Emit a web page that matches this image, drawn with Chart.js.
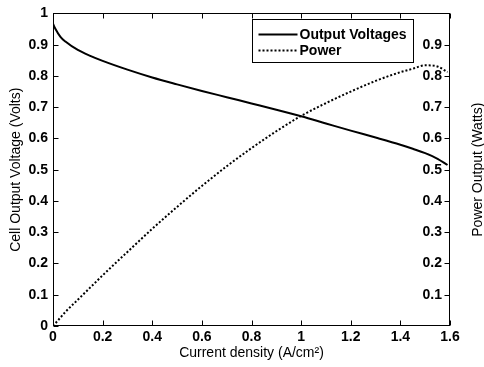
<!DOCTYPE html>
<html>
<head>
<meta charset="utf-8">
<script src="https://cdn.jsdelivr.net/npm/chart.js@4/dist/chart.umd.min.js"></script>
<style>
  html, body { margin: 0; padding: 0; background: #fff; }
  canvas { display: block; }
</style>
</head>
<body>
<canvas id="fcChart" width="484" height="367"></canvas>
<script>
// Polarisation and power curve of the cell
const currentDensity = [0, 0.01, 0.03, 0.05, 0.1, 0.15, 0.2, 0.3, 0.4, 0.5, 0.6, 0.7, 0.8, 0.9, 1.0, 1.1, 1.2, 1.3, 1.4, 1.45, 1.5, 1.55, 1.59];
const outputVoltage = [0.967, 0.95, 0.925, 0.91, 0.883, 0.864, 0.848, 0.82, 0.795, 0.773, 0.752, 0.732, 0.712, 0.692, 0.671, 0.648, 0.625, 0.603, 0.58, 0.567, 0.553, 0.535, 0.515];
const powerOutput = [0, 0.009, 0.027, 0.045, 0.084, 0.123, 0.162, 0.237, 0.311, 0.381, 0.448, 0.511, 0.569, 0.623, 0.672, 0.713, 0.75, 0.784, 0.812, 0.823, 0.834, 0.83, 0.812];

const xTicks = [0, 0.2, 0.4, 0.6, 0.8, 1, 1.2, 1.4, 1.6];
const voltTicks = [0, 0.1, 0.2, 0.3, 0.4, 0.5, 0.6, 0.7, 0.8, 0.9, 1];
const powerTicks = [0.1, 0.2, 0.3, 0.4, 0.5, 0.6, 0.7, 0.8, 0.9];

const FONT = "'Liberation Sans', Arial, sans-serif";
const tickFont = { family: FONT, size: 14, weight: 'bold' };
const titleFont = { family: FONT, size: 14, lineHeight: 1 };

const toPoints = (xs, ys) => xs.map((x, i) => ({ x: x, y: ys[i] }));
const setTicks = list => scale => { scale.ticks = list.map(v => ({ value: v })); };

// box frame, inward tick marks, right-hand axis title and the boxed legend
const frameAndLegend = {
  id: 'frameAndLegend',
  afterDraw(chart) {
    const { ctx, chartArea: a, scales } = chart;
    const L = Math.round(a.left) + 0.5, R = Math.round(a.right) - 0.5;
    const T = Math.round(a.top) + 0.5, B = Math.round(a.bottom) - 0.5;
    ctx.save();
    ctx.strokeStyle = '#000';
    ctx.lineWidth = 1;
    ctx.strokeRect(L, T, R - L, B - T);

    ctx.beginPath();
    xTicks.forEach(v => {
      const px = Math.round(scales.x.getPixelForValue(v)) + 0.5;
      ctx.moveTo(px, B); ctx.lineTo(px, B - 5);
      ctx.moveTo(px, T); ctx.lineTo(px, T + 5);
    });
    voltTicks.forEach(v => {
      const py = Math.round(scales.y.getPixelForValue(v)) + 0.5;
      ctx.moveTo(L, py); ctx.lineTo(L + 5, py);
    });
    powerTicks.forEach(v => {
      const py = Math.round(scales.y2.getPixelForValue(v)) + 0.5;
      ctx.moveTo(R, py); ctx.lineTo(R - 5, py);
    });
    ctx.stroke();

    // y2 title reads bottom to top, like the left one
    ctx.save();
    ctx.translate(scales.y2.right - 6, (a.top + a.bottom) / 2);
    ctx.rotate(-Math.PI / 2);
    ctx.font = '14px ' + FONT;
    ctx.fillStyle = '#000';
    ctx.textAlign = 'center';
    ctx.textBaseline = 'middle';
    ctx.fillText(chart.options.scales.y2.title.text, 0, 0);
    ctx.restore();

    // legend
    const bx = L + 199, by = T + 6, bw = 161, bh = 43;
    ctx.fillStyle = '#fff';
    ctx.fillRect(bx, by, bw, bh);
    ctx.strokeRect(bx, by, bw, bh);
    ctx.font = 'bold 14px ' + FONT;
    ctx.textBaseline = 'middle';
    ctx.fillStyle = '#000';
    chart.data.datasets.forEach((ds, i) => {
      const y = by + 15 + i * 16;
      ctx.save();
      ctx.lineWidth = ds.borderWidth;
      ctx.setLineDash(ds.borderDash || []);
      ctx.beginPath();
      ctx.moveTo(bx + 6, y);
      ctx.lineTo(bx + 45, y);
      ctx.stroke();
      ctx.restore();
      ctx.fillText(ds.label, bx + 47, y + 1);
    });
    ctx.restore();
  }
};

new Chart(document.getElementById('fcChart'), {
  type: 'line',
  data: {
    datasets: [
      {
        label: 'Output Voltages',
        data: toPoints(currentDensity, outputVoltage),
        yAxisID: 'y',
        borderColor: '#000',
        borderWidth: 2,
        pointRadius: 0,
        cubicInterpolationMode: 'monotone'
      },
      {
        label: 'Power',
        data: toPoints(currentDensity, powerOutput),
        yAxisID: 'y2',
        borderColor: '#000',
        borderWidth: 2,
        borderDash: [2, 2],
        pointRadius: 0,
        cubicInterpolationMode: 'monotone'
      }
    ]
  },
  options: {
    responsive: false,
    animation: false,
    devicePixelRatio: 1,
    layout: { padding: { left: 0, right: 0, top: 13, bottom: 0 } },
    plugins: { legend: { display: false }, tooltip: { enabled: false } },
    scales: {
      x: {
        type: 'linear',
        min: 0,
        max: 1.6,
        grid: { display: false, drawTicks: false },
        border: { display: false },
        afterBuildTicks: setTicks(xTicks),
        afterFit: s => { s.height = 41; },
        ticks: { font: tickFont, color: '#000', padding: 3, maxRotation: 0, autoSkip: false, callback: v => String(v) },
        title: { display: true, text: 'Current density (A/cm²)', font: titleFont, color: '#000', padding: { top: 0, bottom: 7 } }
      },
      y: {
        position: 'left',
        min: 0,
        max: 1,
        grid: { display: false, drawTicks: false },
        border: { display: false },
        afterBuildTicks: setTicks(voltTicks),
        afterFit: s => { s.width = 53; },
        ticks: { font: tickFont, color: '#000', padding: 5, autoSkip: false, callback: v => String(v) },
        title: { display: true, text: 'Cell Output Voltage (Volts)', font: titleFont, color: '#000', padding: { top: 9, bottom: 0 } }
      },
      y2: {
        position: 'right',
        min: 0,
        max: 1,
        grid: { display: false, drawTicks: false },
        border: { display: false },
        afterBuildTicks: setTicks(powerTicks),
        afterFit: s => { s.width = 34; },
        ticks: { font: tickFont, color: '#000', mirror: true, padding: -8, autoSkip: false, callback: v => String(v) },
        title: { display: false, text: 'Power Output (Watts)' }
      }
    }
  },
  plugins: [frameAndLegend]
});
</script>
</body>
</html>
